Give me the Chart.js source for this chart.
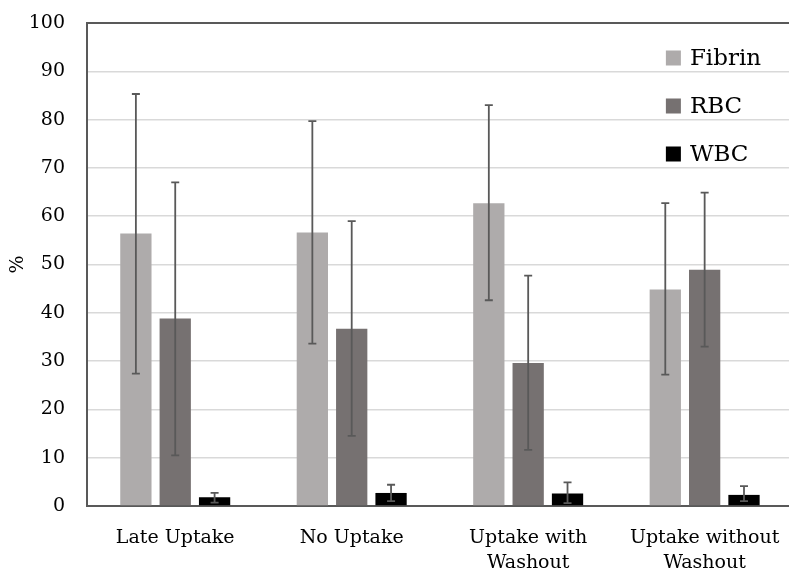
<!DOCTYPE html>
<html>
<head>
<meta charset="utf-8">
<script src="https://cdn.jsdelivr.net/npm/chart.js@4/dist/chart.umd.min.js"></script>
<style>
  html, body { margin: 0; padding: 0; background: #fff; overflow: hidden; }
  #wrap { width: 789px; height: 574px; overflow: hidden; }
</style>
</head>
<body>
<div id="wrap"><canvas id="chart" width="800" height="574"></canvas></div>
<script>
const categories = [['Late Uptake'], ['No Uptake'], ['Uptake with', 'Washout'], ['Uptake without', 'Washout']]
const seriesNames = ['Fibrin', 'RBC', 'WBC']

const fibrin = [56.4, 56.6, 62.7, 44.8]
const fibrinLow = [27.4, 33.6, 42.6, 27.2]
const fibrinHigh = [85.3, 79.7, 83.0, 62.7]

const rbc = [38.8, 36.7, 29.6, 48.9]
const rbcLow = [10.5, 14.5, 11.6, 33.0]
const rbcHigh = [67.0, 59.0, 47.7, 64.9]

const wbc = [1.8, 2.7, 2.6, 2.3]
const wbcLow = [0.7, 1.0, 0.6, 1.0]
const wbcHigh = [2.7, 4.4, 4.9, 4.1]

const yTicks = [0, 10, 20, 30, 40, 50, 60, 70, 80, 90, 100]

const colors = ['#AEABAB', '#767171', '#000000']
const lows = [fibrinLow, rbcLow, wbcLow]
const highs = [fibrinHigh, rbcHigh, wbcHigh]

const serif = 'DejaVu Serif, serif'

// error bars drawn over the bars
const errorBars = {
  id: 'errorBars',
  afterDatasetsDraw(chart) {
    const ctx = chart.ctx
    const y = chart.scales.y
    ctx.save()
    ctx.strokeStyle = '#595959'
    ctx.lineWidth = 1.8
    chart.data.datasets.forEach((ds, i) => {
      chart.getDatasetMeta(i).data.forEach((bar, j) => {
        const top = y.getPixelForValue(highs[i][j])
        const bot = y.getPixelForValue(lows[i][j])
        ctx.beginPath()
        ctx.moveTo(bar.x, top)
        ctx.lineTo(bar.x, bot)
        ctx.moveTo(bar.x - 4, top)
        ctx.lineTo(bar.x + 4, top)
        ctx.moveTo(bar.x - 4, bot)
        ctx.lineTo(bar.x + 4, bot)
        ctx.stroke()
      })
    })
    ctx.restore()
  }
}

// legend sits inside the plot, top right
const insideLegend = {
  id: 'insideLegend',
  afterDraw(chart) {
    const ctx = chart.ctx
    const area = chart.chartArea
    const x = area.right - 127
    ctx.save()
    ctx.font = '23px ' + serif
    ctx.textBaseline = 'middle'
    ctx.fillStyle = '#000'
    chart.data.datasets.forEach((ds, i) => {
      const cy = area.top + 35 + i * 48
      ctx.fillStyle = ds.backgroundColor
      ctx.fillRect(x, cy - 7.5, 15, 15)
      ctx.fillStyle = '#000'
      ctx.fillText(ds.label, x + 24, cy + 1)
    })
    ctx.restore()
  }
}

new Chart(document.getElementById('chart'), {
  type: 'bar',
  data: {
    labels: categories,
    datasets: [
      { label: seriesNames[0], data: fibrin, backgroundColor: colors[0] },
      { label: seriesNames[1], data: rbc, backgroundColor: colors[1] },
      { label: seriesNames[2], data: wbc, backgroundColor: colors[2] }
    ]
  },
  options: {
    responsive: false,
    animation: false,
    events: [],
    layout: { padding: { top: 23, right: 5, left: 0, bottom: 0 } },
    datasets: {
      bar: { categoryPercentage: 0.669, barPercentage: 0.795 }
    },
    plugins: {
      legend: { display: false },
      tooltip: { enabled: false }
    },
    scales: {
      x: {
        grid: { display: false, drawTicks: false },
        border: { color: '#595959', width: 2 },
        ticks: {
          color: '#000',
          padding: 20,
          maxRotation: 0,
          font: { family: serif, size: 19, lineHeight: 1.3 }
        },
        afterFit(s) { s.height = 68 }
      },
      y: {
        min: 0,
        max: 100,
        afterBuildTicks(s) { s.ticks = yTicks.map(v => ({ value: v })) },
        grid: {
          drawTicks: false,
          color: c => c.tick && c.tick.value === 100 ? '#595959' : '#d9d9d9',
          lineWidth: c => c.tick && c.tick.value === 100 ? 2 : 1.5
        },
        border: { color: '#595959', width: 2 },
        ticks: {
          color: '#000',
          padding: 22,
          font: { family: serif, size: 19 }
        },
        title: {
          display: true,
          text: '%',
          color: '#000',
          padding: { top: 7, bottom: 0 },
          font: { family: serif, size: 19 }
        },
        afterFit(s) {
          s.width = 87
          s.paddingTop = 0
          s.paddingBottom = 0
        }
      }
    }
  },
  plugins: [errorBars, insideLegend]
})
</script>
</body>
</html>
